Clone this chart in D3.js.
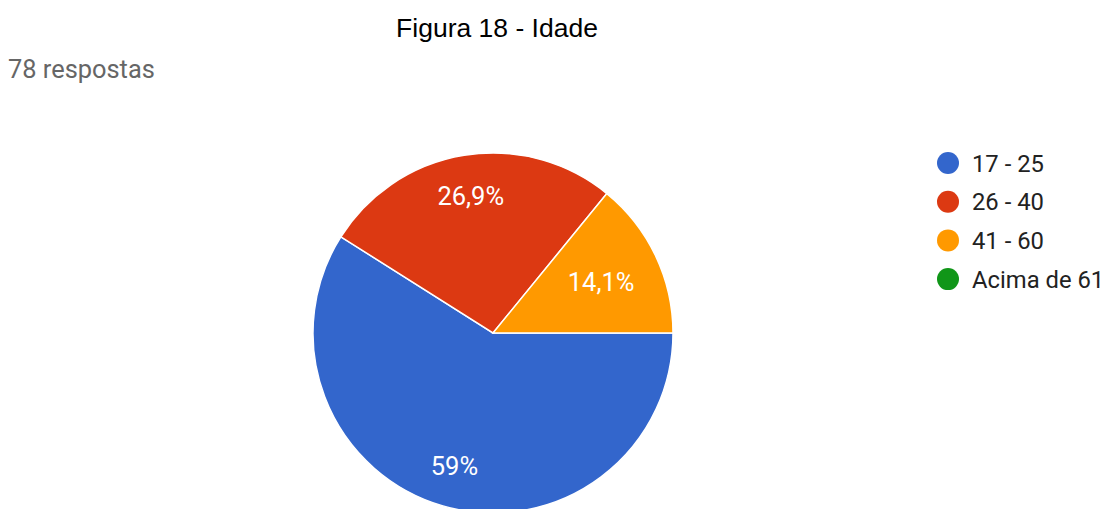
<!DOCTYPE html>
<html>
<head>
<meta charset="utf-8">
<script src="https://cdn.jsdelivr.net/npm/d3@7"></script>
<style>
  html, body { margin: 0; padding: 0; background: #fff; }
  svg { display: block; }
</style>
</head>
<body>
<svg id="chart" width="1106" height="509"></svg>
<script>
// Age groups and number of answers
const categories = ["17 - 25", "26 - 40", "41 - 60", "Acima de 61"];
const counts = [46, 21, 11, 0];
const colors = ["#3366cc", "#dc3912", "#ff9900", "#109618"];
const title = "Figura 18 - Idade";
const subtitle = "78 respostas";

const svg = d3.select("#chart");

svg.append("text")
  .attr("x", 497).attr("y", 37)
  .attr("text-anchor", "middle")
  .attr("font-family", "Liberation Sans, Arial, sans-serif")
  .attr("font-size", 26.5)
  .attr("fill", "#000")
  .text(title);

svg.append("text")
  .attr("x", 8).attr("y", 78)
  .attr("font-family", "Roboto, sans-serif")
  .attr("font-size", 25.4)
  .attr("fill", "#666")
  .text(subtitle);

const cx = 493, cy = 333, R = 180;
const total = d3.sum(counts);

// slices start at 3 o'clock and run clockwise
const pie = d3.pie().sort(null).value(d => d)
  .startAngle(Math.PI / 2).endAngle(Math.PI / 2 + 2 * Math.PI);
const arcs = pie(counts);
const arc = d3.arc().innerRadius(0).outerRadius(R);

const g = svg.append("g").attr("transform", `translate(${cx},${cy})`);
g.selectAll("path.slice")
  .data(arcs.filter(a => a.value > 0))
  .join("path")
  .attr("class", "slice")
  .attr("d", arc)
  .attr("fill", (d) => colors[d.index])
  .attr("stroke", "#fff")
  .attr("stroke-width", 1.5);

const fmt = v => {
  const p = v / total * 100;
  const s = (Math.round(p * 10) / 10).toString().replace(".", ",");
  return s + "%";
};

g.selectAll("text.pct")
  .data(arcs.filter(a => a.value > 0))
  .join("text")
  .attr("class", "pct")
  .each(function (d) {
    const frac = d.value / total;
    const lr = frac < 0.2 ? R * 0.665 : R * 0.77;
    const mid = (d.startAngle + d.endAngle) / 2;
    d3.select(this)
      .attr("x", lr * Math.sin(mid))
      .attr("y", -lr * Math.cos(mid))
      .attr("dy", "0.36em");
  })
  .attr("text-anchor", "middle")
  .attr("font-family", "Roboto, sans-serif")
  .attr("font-size", 25.5)
  .attr("fill", "#fff")
  .text(d => fmt(d.value));

// legend
const lg = svg.append("g").attr("transform", "translate(948,163)");
const item = lg.selectAll("g.item")
  .data(categories)
  .join("g")
  .attr("class", "item")
  .attr("transform", (d, i) => `translate(0,${i * 38.7})`);
item.append("circle")
  .attr("r", 11)
  .attr("fill", (d, i) => colors[i]);
item.append("text")
  .attr("x", 24).attr("dy", "0.36em")
  .attr("font-family", "Roboto, sans-serif")
  .attr("font-size", 23.8)
  .attr("fill", "#222")
  .text(d => d);
</script>
</body>
</html>
